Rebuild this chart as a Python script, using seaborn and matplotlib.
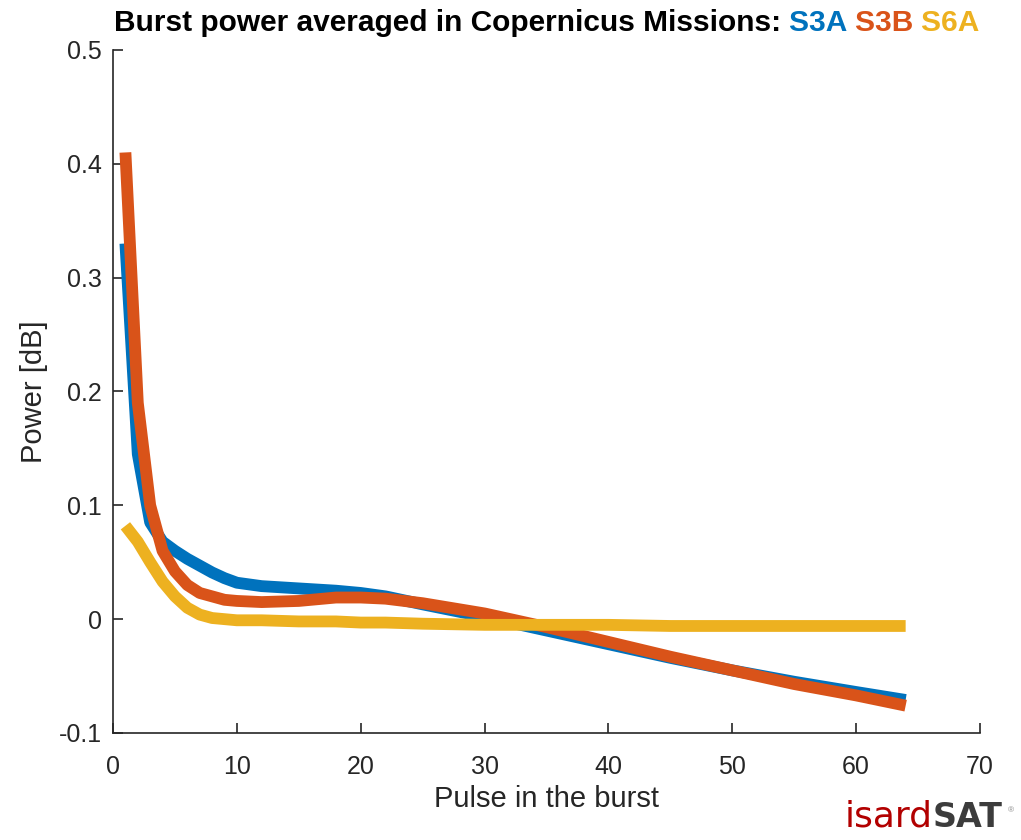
import numpy as np
import pandas as pd
import matplotlib
matplotlib.use("Agg")
import matplotlib.pyplot as plt
import seaborn as sns

# === Datos
pulso = [1, 2, 3, 4, 5, 6, 7, 8, 9, 10, 12, 15, 18, 20, 22, 25, 30, 35, 40, 45, 50, 55, 60, 64]
s3a = [0.330, 0.145, 0.085, 0.068, 0.060, 0.053, 0.047, 0.041, 0.036, 0.032, 0.029, 0.027, 0.025,
       0.023, 0.020, 0.013, 0.002, -0.010, -0.022, -0.034, -0.045, -0.055, -0.064, -0.071]
s3b = [0.410, 0.190, 0.100, 0.060, 0.042, 0.030, 0.023, 0.020, 0.017, 0.016, 0.015, 0.016, 0.019,
       0.019, 0.018, 0.014, 0.005, -0.007, -0.020, -0.033, -0.045, -0.057, -0.067, -0.076]
s6a = [0.082, 0.068, 0.050, 0.033, 0.020, 0.010, 0.004, 0.001, 0.000, -0.001, -0.001, -0.002, -0.002,
       -0.003, -0.003, -0.004, -0.005, -0.005, -0.005, -0.006, -0.006, -0.006, -0.006, -0.006]
misiones = ["S3A", "S3B", "S6A"]
colores = ["#0072BD", "#D95319", "#EDB120"]

df = pd.DataFrame({"pulso": pulso * 3,
                   "power": s3a + s3b + s6a,
                   "mision": np.repeat(misiones, len(pulso))})

sns.set_style("white")
plt.rcParams["font.family"] = ["Liberation Sans", "DejaVu Sans"]
gris = "#262626"

fig = plt.figure(figsize=(10.21, 8.4), dpi=100)
ax = fig.add_axes([0.1107, 0.1274, 0.8491, 0.8131])

for m, c in zip(misiones, colores):
    sns.lineplot(data=df[df["mision"] == m], x="pulso", y="power", color=c,
                 linewidth=8.5, ax=ax, legend=False, solid_capstyle="butt")

ax.set_xlim(0, 70)
ax.set_ylim(-0.1, 0.5)
ax.set_xticks(range(0, 71, 10))
ax.set_yticks([-0.1, 0, 0.1, 0.2, 0.3, 0.4, 0.5])
ax.set_yticklabels(["-0.1", "0", "0.1", "0.2", "0.3", "0.4", "0.5"])
ax.tick_params(direction="in", length=7, width=1.2, colors=gris, labelsize=18,
               bottom=True, left=True)
ax.tick_params(axis="x", pad=16)
ax.tick_params(axis="y", pad=8)
for s in ["top", "right"]:
    ax.spines[s].set_visible(False)
for s in ["left", "bottom"]:
    ax.spines[s].set_color(gris)
    ax.spines[s].set_linewidth(1.2)
ax.set_xlabel("Pulse in the burst", fontsize=21, color=gris, labelpad=4)
ax.set_ylabel("Power [dB]", fontsize=21, color=gris, labelpad=8)

# === Titulo con colores
piezas = [("Burst power averaged in Copernicus Missions: ", "black")]
piezas += [(m + " ", c) for m, c in zip(misiones, colores)]
fig.canvas.draw()
r = fig.canvas.get_renderer()
textos = [fig.text(0, 0.963, t, fontsize=21.5, fontweight="bold", color=c, ha="left", va="baseline")
          for t, c in piezas]
anchos = [t.get_window_extent(r).width for t in textos]
total = sum(anchos) - anchos[-1] * 0.2
x0 = 544 - total / 2
for t, w in zip(textos, anchos):
    t.set_x(x0 / fig.bbox.width)
    x0 += w

# === Logo
fig.text(0.913, 0.0155, "isard", fontsize=26, color="#b20000",
         family="DejaVu Sans", ha="right", va="baseline")
fig.text(0.913, 0.0155, "SAT", fontsize=24, fontweight="bold", color="#3c3c3c",
         family="DejaVu Sans", ha="left", va="baseline")
fig.text(0.987, 0.03, "®", fontsize=6, color="#888888", ha="left", va="bottom")

fig.savefig("out.png", dpi=100)
